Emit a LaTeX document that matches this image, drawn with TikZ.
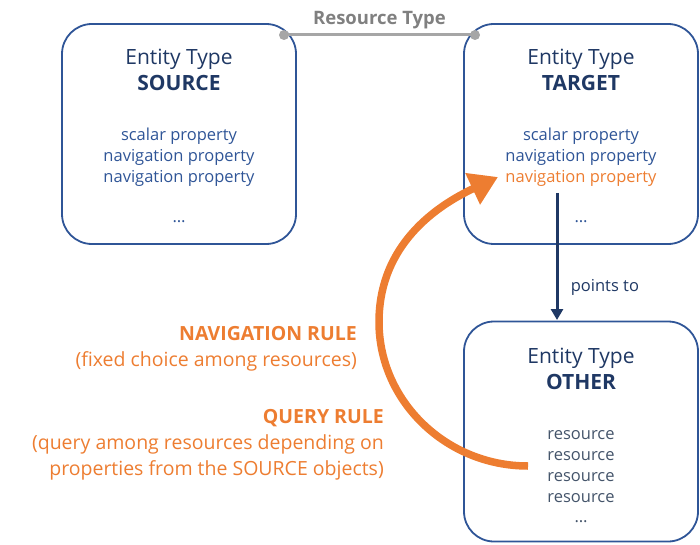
\documentclass[tikz,border=0pt]{standalone}
\usepackage{fontspec}
\setmainfont{Open Sans}
\usetikzlibrary{arrows.meta}

\definecolor{boxblue}{HTML}{2F5597}
\definecolor{titleblue}{HTML}{1F3864}
\definecolor{ruleorange}{HTML}{ED7D31}
\definecolor{linegray}{HTML}{A6A6A6}
\definecolor{labelgray}{HTML}{808080}
\definecolor{resgray}{HTML}{44546A}

\tikzset{
	entity/.style={draw=boxblue, line width=1.8pt, rounded corners=30pt,
		minimum width=234pt, minimum height=220pt},
	etitle/.style={text=titleblue, align=center, inner sep=0pt,
		font=\fontsize{21}{26}\selectfont},
	eprop/.style={text=boxblue, align=center, inner sep=0pt,
		font=\fontsize{16.5}{21}\selectfont},
	erule/.style={text=ruleorange, align=right, anchor=east, inner sep=0pt,
		font=\fontsize{19.5}{26}\selectfont},
}

\begin{document}
\begin{tikzpicture}[x=1pt, y=-1pt]
	\useasboundingbox (0,0) rectangle (700,545);
	% entity boxes
	\node[entity] (S) at (179,134) {};
	\node[entity] (T) at (581,134) {};
	\node[entity] (O) at (581,431.5) {};
	% SOURCE
	\node[etitle] (S-title) at (179,70) {Entity Type\\\textbf{SOURCE}};
	\node[eprop] (S-props) at (179,157) {scalar property\\navigation property\\navigation property};
	\node[eprop] (S-dots) at (179,222) {\dots};
	% TARGET
	\node[etitle] (T-title) at (581,70) {Entity Type\\\textbf{TARGET}};
	\node[eprop] (T-props) at (581,146.5) {scalar property\\navigation property};
	\node[eprop, text=ruleorange] (T-nav) at (581,178.5) {navigation property};
	\node[eprop] (T-dots) at (581,222) {\dots};
	% OTHER
	\node[etitle] (O-title) at (581,368.5) {Entity Type\\\textbf{OTHER}};
	\node[eprop, text=resgray] (O-res) at (581,466.5) {resource\\resource\\resource\\resource};
	\node[eprop, text=resgray] (O-dots) at (581,522) {\dots};
	% resource type
	\coordinate (rs) at (284,35);
	\coordinate (rt) at (475,35);
	\draw[linegray, line width=3pt] (rs) -- node[above=1pt, text=labelgray,
		font=\fontsize{18.5}{20}\selectfont\bfseries] {Resource Type} (rt);
	\fill[linegray] (rs) circle (5pt);
	\fill[linegray] (rt) circle (5pt);
	% points to
	\coordinate (p1) at (557,193);
	\coordinate (p2) at (557,320);
	\draw[titleblue, line width=3pt, -{Triangle[length=11pt,width=12pt]}] (p1) --
		node[right=9pt, text=titleblue, font=\fontsize{16.5}{18}\selectfont, pos=0.74] {points to} (p2);
	% rules
	\node[erule] (nav-rule) at (357,349) {\textbf{NAVIGATION RULE}\\(fixed choice among resources)};
	\node[erule] (query-rule) at (384,445) {\textbf{QUERY RULE}\\(query among resources depending on\\properties from the SOURCE objects)};
	\coordinate (q1) at (528,466);
	\coordinate (q2) at (379,322);
	\coordinate (q3) at (498,177);
	\draw[ruleorange, line width=7.5pt, -{Triangle[length=28pt,width=33pt]}]
		(q1) .. controls (446,466) and (379,401) .. (q2)
		.. controls (379,245) and (436,206) .. (q3);
\end{tikzpicture}
\end{document}
